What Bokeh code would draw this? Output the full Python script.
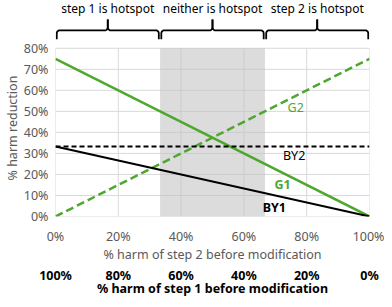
import numpy as np
from bokeh.plotting import figure
from bokeh.models import Range1d, LinearAxis, FixedTicker, PrintfTickFormatter, Title, ColumnDataSource
from bokeh.core.properties import value
from bokeh.embed import file_html
from bokeh.resources import INLINE

# ---------------- data ----------------
harm_step2 = [0, 100]          # % harm of step 2 before modification
g1 = [75, 0]                   # G1
g2 = [0, 75]                   # G2
by1 = [33.3, 0]                # BY1
by2 = [33.3, 33.3]             # BY2
region_edges = [0, 33.3, 66.7, 100]
region_names = ["step 1 is hotspot", "neither is hotspot", "step 2 is hotspot"]
y_ticks = [0, 10, 20, 30, 40, 50, 60, 70, 80]
x_ticks = [0, 20, 40, 60, 80, 100]
series_names = ["G2", "BY2", "G1", "BY1"]

# ---------------- style ----------------
FONT = "Noto Sans"
GREEN = "#4EA72E"
GRAY_TXT = "#595959"
FS = "12.5px"

W, H = 384, 299
BOTTOM = 82
FRAME_BOTTOM = H - BOTTOM        # px from top of figure
TOP80 = 48                       # px from top where 80% sits
PX_PER_PCT = (FRAME_BOTTOM - TOP80) / 80.0

p = figure(width=W, height=H,
           x_range=Range1d(0, 100), y_range=Range1d(0, FRAME_BOTTOM / PX_PER_PCT),
           output_backend="svg", toolbar_location=None,
           min_border_left=55, min_border_right=15,
           min_border_top=0, min_border_bottom=BOTTOM)
p.outline_line_color = None
p.xgrid.visible = False
p.ygrid.visible = False
p.background_fill_color = "white"
p.border_fill_color = "white"

ytop = max(y_ticks)
xl, xr = region_edges[0], region_edges[-1]

# gridlines
p.segment(x0=x_ticks, y0=[0] * len(x_ticks), x1=x_ticks, y1=[ytop] * len(x_ticks),
          line_color="#D9D9D9", line_width=1)
p.segment(x0=[xl] * len(y_ticks), y0=y_ticks, x1=[xr] * len(y_ticks), y1=y_ticks,
          line_color="#D9D9D9", line_width=1)

# shaded "neither is hotspot" band
p.quad(left=[region_edges[1]], right=[region_edges[2]], bottom=[0], top=[ytop],
       fill_color="#BFBFBF", fill_alpha=0.55, line_color=None)

# series lines
p.line(harm_step2, g1, line_color=GREEN, line_width=2.5)
p.line(harm_step2, g2, line_color=GREEN, line_width=2.5, line_dash="8 4")
p.line(harm_step2, by1, line_color="black", line_width=2)
p.line(harm_step2, by2, line_color="black", line_width=2, line_dash="5 3")

# series labels
lab_x = [76.5, 76.0, 72.3, 69.7]
lab_y = [51.7, 28.8, 15.4, 4.3]
lab_col = [GREEN, "black", GREEN, "black"]
lab_style = ["normal", "normal", "bold", "bold"]
src = ColumnDataSource(dict(x=lab_x, y=lab_y, t=series_names, c=lab_col, s=lab_style))
p.text(x="x", y="y", text="t", text_color="c", text_font_style="s", source=src,
       text_font=value(FONT), text_font_size=FS, text_align="center", text_baseline="middle")

# region titles and braces
def y_of(px_from_top):
    return (FRAME_BOTTOM - px_from_top) / PX_PER_PCT

centers = [(a + b) / 2 for a, b in zip(region_edges[:-1], region_edges[1:])]
p.text(x=centers, y=[y_of(8)] * len(centers), text=region_names,
       text_font=value(FONT), text_font_size="12px", text_align="center",
       text_baseline="middle", text_color="black")

y_end, y_bar, y_tip = y_of(39), y_of(30), y_of(19)
rx, ry, inset = 0.95, 3 / PX_PER_PCT, 0.4
t = np.linspace(0, np.pi / 2, 8)
bx, by = [], []
for a, b in zip(region_edges[:-1], region_edges[1:]):
    x0, x1 = a + inset, b - inset
    xm = (x0 + x1) / 2
    for sgn, xe in ((1, x0), (-1, x1)):
        cx, cy = xe + sgn * rx, y_bar - ry
        cxs = list(cx - sgn * rx * np.cos(t))
        cys = list(cy + ry * np.sin(t))
        ix, iy = xm - sgn * rx, y_bar + ry
        ixs = list(ix + sgn * rx * np.sin(t))
        iys = list(iy - ry * np.cos(t))
        bx.append([xe] + cxs + ixs + [xm])
        by.append([y_end] + cys + iys + [y_tip])
p.multi_line(xs=bx, ys=by, line_color="black", line_width=1.8)

# y axis
ya = p.yaxis[0]
ya.ticker = FixedTicker(ticks=y_ticks)
ya.formatter = PrintfTickFormatter(format="%d%%")
ya.axis_line_color = None
ya.major_tick_line_color = None
ya.minor_tick_line_color = None
ya.major_tick_out = 0
ya.major_tick_in = 0
ya.minor_tick_out = 0
ya.major_label_text_font = FONT
ya.major_label_text_font_size = FS
ya.major_label_text_color = GRAY_TXT
ya.major_label_standoff = 7

# y axis title as a side title, anchored above the frame bottom
ytitle = Title(text="% harm reduction", align="left", offset=36, standoff=0,
               text_font=FONT, text_font_size=FS, text_font_style="normal",
               text_color=GRAY_TXT)
p.add_layout(ytitle, "left")

# primary x axis
xa = p.xaxis[0]
xa.ticker = FixedTicker(ticks=x_ticks)
xa.formatter = PrintfTickFormatter(format="%d%%")
xa.axis_line_color = None
xa.major_tick_line_color = None
xa.minor_tick_line_color = None
xa.major_tick_out = 0
xa.major_tick_in = 0
xa.minor_tick_out = 0
xa.major_label_text_font = FONT
xa.major_label_text_font_size = FS
xa.major_label_text_color = GRAY_TXT
xa.major_label_standoff = 11
xa.axis_label = "% harm of step 2 before modification"
xa.axis_label_text_font = FONT
xa.axis_label_text_font_size = FS
xa.axis_label_text_font_style = "normal"
xa.axis_label_text_color = GRAY_TXT
xa.axis_label_standoff = -2

# secondary x axis (step 1 = 100 - step 2)
p.extra_x_ranges = {"step1": Range1d(start=100, end=0)}
xb = LinearAxis(x_range_name="step1", ticker=FixedTicker(ticks=x_ticks),
                formatter=PrintfTickFormatter(format="%d%%"))
xb.axis_line_color = None
xb.major_tick_line_color = None
xb.minor_tick_line_color = None
xb.major_tick_out = 0
xb.major_tick_in = 0
xb.minor_tick_out = 0
xb.major_label_text_font = FONT
xb.major_label_text_font_size = FS
xb.major_label_text_font_style = "bold"
xb.major_label_text_color = "black"
xb.major_label_standoff = 1
xb.axis_label = "% harm of step 1 before modification"
xb.axis_label_text_font = FONT
xb.axis_label_text_font_size = FS
xb.axis_label_text_font_style = "bold"
xb.axis_label_text_color = "black"
xb.axis_label_standoff = -7
p.add_layout(xb, "below")

open("out.html", "w").write(file_html(p, INLINE))
